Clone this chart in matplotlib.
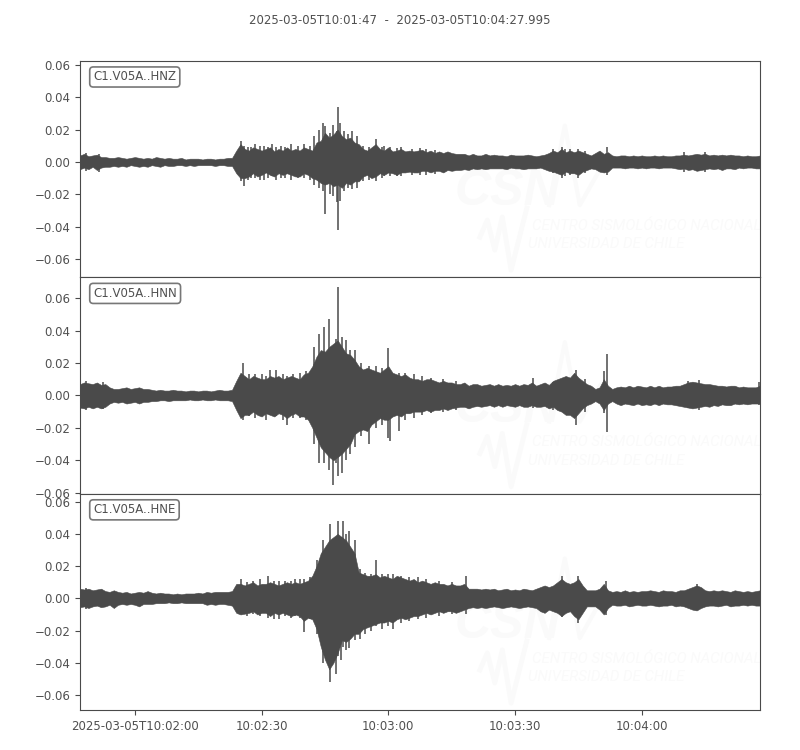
import numpy as np
import matplotlib
matplotlib.use("Agg")
import matplotlib.pyplot as plt

# seconds after 10:01:47, envelope read every 1 s (values in 1e-3), spikes kept apart
times = np.arange(0, 162)
xticks = [13, 43, 73, 103, 133]
xlabels = ["2025-03-05T10:02:00", "10:02:30", "10:03:00", "10:03:30", "10:04:00"]
yticks = [-0.06, -0.04, -0.02, 0.0, 0.02, 0.04, 0.06]
ylabels = ["−0.06", "−0.04", "−0.02", "0.00", "0.02", "0.04", "0.06"]
title = "2025-03-05T10:01:47  -  2025-03-05T10:04:27.995"

names = ["C1.V05A..HNZ", "C1.V05A..HNN", "C1.V05A..HNE"]
ylims = [(-0.0712, 0.0625), (-0.0606, 0.073), (-0.0693, 0.065)]

z_up = [4, 5, 3.5, 4, 4.5, 3, 3, 2.5, 2.5, 3,
        2.5, 2, 2.5, 3, 2.5, 2, 2.5, 2, 3, 2.5,
        2, 2.5, 2, 2, 2.5, 1.5, 2, 2, 2, 1.5,
        2, 2, 1.5, 2, 2, 2.5, 2.5, 7, 11, 8,
        7, 9, 8, 7, 8, 9, 6.5, 8, 7, 9,
        7, 8, 7, 9, 8, 7, 12, 13, 18, 15,
        17, 20, 16, 14, 15, 12, 11, 8, 7, 9,
        11, 8, 7, 9, 6.5, 7, 8, 6.5, 7, 6.5,
        7, 7.5, 6, 7, 5.5, 6.5, 5.5, 6.5, 5.5, 5,
        5, 5, 4, 5, 4, 4, 5, 4, 4.5, 4,
        4, 3.5, 4.5, 4, 4, 4, 4.5, 4, 3.5, 4,
        4.5, 5.5, 7, 6, 8, 6, 7, 6, 7, 6,
        5, 4, 5.5, 7, 5, 6, 4, 3.5, 4, 4,
        3.5, 4, 3.5, 4, 3.5, 3.5, 4, 3.5, 4, 3.5,
        3.5, 4, 4, 4.5, 4, 4.5, 5, 4.5, 5, 4,
        4.5, 4, 4.5, 4, 4.5, 4, 4, 3.5, 4, 3.5,
        3.5, 4]
z_lo = [-4.5, -3.5, -4.5, -3, -5, -3.5, -3, -3, -2.5, -3,
        -2.5, -3, -2, -2.5, -3, -2.5, -3, -2, -2.5, -3,
        -2, -2.5, -2.5, -2, -2, -2.5, -2, -2.5, -2, -2,
        -2, -2, -2.5, -2, -2, -2.5, -2.5, -7, -10, -10,
        -9, -7, -9, -8, -6.5, -8, -9, -7, -8, -7,
        -8, -9, -9, -7, -8, -10, -11, -13, -14, -13,
        -15, -14, -16, -13, -14, -12, -12, -9, -8, -10,
        -9, -7, -8, -6.5, -7, -8, -6.5, -6.5, -6, -6.5,
        -6.5, -5.5, -5.5, -6.5, -5.5, -5.5, -6.5, -5, -5.5, -5,
        -5, -4.5, -5, -4, -4.5, -4, -4.5, -4, -4, -4,
        -4, -4.5, -3.5, -4, -4, -4.5, -4, -4, -4, -3.5,
        -4.5, -5.5, -6, -7, -8, -6, -7, -7, -8, -6,
        -5, -4, -4.5, -6, -6.5, -6, -3.5, -3.5, -3.5, -4,
        -3.5, -3.5, -4, -3.5, -4, -3.5, -3.5, -4, -3.5, -3.5,
        -3.5, -4, -4.5, -4, -5, -4.5, -5.5, -5, -4.5, -4,
        -4.5, -4, -5, -4, -4, -4.5, -3.5, -4, -3.5, -3.5,
        -4, -4]
z_spike_t = [1.5, 4.5, 38, 38.8, 39.7, 40.5, 41.5, 42.5, 43.5, 44.5, 45.5, 46.5, 47.5, 48.5, 50, 51.5, 53, 54.5, 55.5, 56.5, 57.5, 58, 59.2, 60, 60.8, 61, 61.5, 62.5, 63.5, 64.5, 65.5, 67, 68.5, 70, 71.5, 72, 73.5, 75, 76, 78.5, 80.5, 82, 84, 112, 114, 114.8, 116, 118, 119.5, 124.7, 143, 148]
z_spike_up = [5.5, 5, 13, 10, 9.5, 9, 11, 10, 10, 9.5, 11, 9, 10, 9, 11, 10, 11, 10, 16, 20, 24, 22, 18, 23, 19, 34, 24, 19, 17, 19, 16, 10, 9, 14, 9, 10, 9, 8.5, 9, 8, 8.5, 8, 7.5, 8, 9.5, 8, 8, 8, 7, 9, 6, 6]
z_spike_lo = [-5.5, -6, -12, -15, -11, -10, -10, -11, -11, -10, -9, -11, -10, -10, -11, -10, -10, -11, -14, -16, -18, -32, -20, -21, -25, -42, -24, -18, -16, -17, -16, -12, -11, -12, -10, -9, -9, -8.5, -9, -8, -8, -8, -7.5, -7, -10, -9, -8, -10, -7, -8, -6, -6]

n_up = [7, 8, 7.5, 7, 8, 6.5, 7, 5, 4, 4,
        4.5, 5, 4, 4.5, 5, 4, 4, 3.5, 3, 3.5,
        3, 3, 3.5, 3, 3, 2.5, 3, 3, 2.5, 3,
        3, 2.5, 3, 3.5, 3, 3, 3.5, 9, 14, 12,
        10, 12, 11, 10, 10, 12, 11, 12, 10, 11,
        12, 11, 10, 13, 14, 18, 24, 28, 27, 30,
        32, 34, 30, 26, 25, 22, 18, 16, 17, 16,
        15, 14, 16, 18, 14, 13, 12, 13, 11, 10,
        10, 9, 10, 10, 9, 8, 9, 8, 8, 7,
        7, 8, 6, 7, 7, 6, 6.5, 7, 6, 7,
        6, 6.5, 6, 7, 6, 7, 6.5, 8, 6, 7,
        8, 6.5, 9, 10, 11, 12, 11, 14, 11, 9,
        7, 6, 4, 5, 10, 6, 4, 5, 5.5, 5,
        6, 5, 6, 5.5, 5, 6, 5, 6, 5, 5.5,
        5.5, 6, 6, 7, 8, 8.5, 8, 7.5, 7, 7,
        6.5, 6, 6, 5.5, 6, 6, 5, 5.5, 5, 5,
        5, 6]
n_lo = [-7.5, -8, -7, -8, -7, -8, -7, -5, -4, -4.5,
        -4, -5, -4.5, -4, -5, -4, -4, -3.5, -3.5, -3,
        -3, -3.5, -3, -3, -3, -3, -2.5, -3, -3, -2.5,
        -3, -3, -2.5, -3, -3, -3, -3.5, -9, -14, -12,
        -12, -10, -12, -13, -11, -12, -13, -11, -12, -14,
        -12, -11, -13, -13, -15, -20, -26, -32, -35, -38,
        -40, -38, -36, -33, -30, -24, -22, -21, -22, -18,
        -16, -14, -15, -15, -13, -12, -13, -11, -11, -10,
        -10, -10, -9, -10, -9, -9, -8, -9, -8, -7.5,
        -7, -7, -8, -7, -6.5, -7, -6.5, -6, -7, -6,
        -7, -6, -6.5, -7, -6, -7, -7, -6, -7, -7,
        -6.5, -8, -7, -9, -10, -12, -12, -14, -11, -8,
        -6, -5, -3.5, -5, -9, -5, -3.5, -5, -6, -5,
        -5.5, -6, -5, -6, -5.5, -6, -5, -6, -5, -5.5,
        -5.5, -6, -6.5, -7, -7.5, -8, -7.5, -7, -6.5, -7,
        -6, -6.5, -5.5, -6, -6, -5, -5.5, -5, -5.5, -5,
        -5, -5]
n_spike_t = [1.5, 5.5, 38.5, 40, 41.5, 43, 44, 45, 46.5, 48, 49, 50.5, 52, 53.5, 55.5, 56.5, 57.8, 59, 60, 60.5, 61, 62, 63, 64, 65, 66.5, 68.5, 70, 71.5, 73, 73.5, 75.5, 77, 79, 81, 83, 86, 89, 107.3, 112, 117.4, 119.5, 124, 124.7, 144, 146.5, 160.7]
n_spike_up = [9, 8.5, 20, 13, 13, 13, 12, 16, 16, 13, 12, 13, 14, 15, 30, 38, 42, 47, 28, 35, 67, 36, 34, 28, 28, 20, 18, 18, 17, 29, 15, 14, 14, 13, 12, 11, 10, 9, 10.7, 8, 16, 10, 15, 25.8, 9, 9.5, 8]
n_spike_lo = [-9, -8.5, -15, -13, -14, -13, -15, -12, -13, -15, -18, -14, -14, -15, -30, -42, -42, -46, -55, -42, -50, -48, -40, -36, -32, -25, -30, -20, -18, -26, -28, -22, -15, -14, -12, -11, -10, -9, -8, -9, -18.5, -10, -11, -22.7, -8, -9, -6]

e_up = [6, 5.5, 6, 5, 5.5, 6, 4.5, 4, 5, 4,
        3.5, 4, 3, 3.5, 4, 3.5, 4.5, 3.5, 3, 3.5,
        3, 3, 2.5, 3, 2.5, 3, 3, 3, 3.5, 3,
        4, 3.5, 4, 4, 4, 4, 4.5, 9, 9, 8,
        9, 10, 8, 9, 9, 10, 9, 8, 9, 10,
        9, 10, 9, 10, 11, 14, 20, 28, 32, 36,
        38, 40, 38, 36, 32, 28, 16, 15, 14, 14,
        15, 13, 14, 13, 12, 14, 13, 12, 11, 12,
        10, 11, 10, 9, 10, 9, 9, 8, 9, 8,
        8, 9, 6, 6, 6, 5.5, 6, 5.5, 6, 5,
        5.5, 6, 5, 5.5, 5, 6, 5.5, 5, 6, 7,
        8, 7, 8, 10, 12, 10, 9, 10, 12, 8,
        5, 5, 5, 6, 9, 5, 4, 4.5, 4, 5,
        4, 4.5, 4, 4.5, 4.5, 5, 4.5, 4, 5, 4.5,
        4.5, 4, 5, 5, 6, 7, 8, 7, 5, 4.5,
        5, 4.5, 5, 4.5, 4, 5, 4.5, 4, 4.5, 4,
        4.5, 5]
e_lo = [-5.5, -5, -6, -5, -4.5, -5.5, -5, -4, -6, -4,
        -3.5, -4, -3.5, -4, -5, -3.5, -3.5, -3.5, -3, -3,
        -3, -2.5, -3, -3, -2.5, -3, -3, -3, -3, -3,
        -4, -3.5, -4, -3.5, -3.5, -4, -4.5, -9, -10, -9.5,
        -9, -8, -10, -9, -9, -11, -9, -10, -9, -10,
        -11, -10, -11, -14, -12, -13, -19, -30, -38, -44,
        -40, -34, -26, -27, -25, -22, -22, -19, -18, -17,
        -16, -15, -15, -14, -15, -13, -12, -13, -12, -11,
        -11, -10, -9, -10, -9, -8, -9, -8, -8, -9,
        -8, -7, -6, -5.5, -6, -5.5, -6, -5.5, -5, -5.5,
        -6, -5.5, -5, -5.5, -6, -5.5, -5, -5.5, -6, -8,
        -9, -7, -8, -9, -11, -9, -8, -11, -13, -9,
        -5, -5, -5, -7, -10, -6, -4, -4.5, -4.5, -4,
        -5, -4.5, -4, -4.5, -4.5, -4, -4.5, -5, -4.5, -4.5,
        -4, -5, -4.5, -5, -6, -7, -7.5, -6, -5, -4.5,
        -4.5, -5, -4.5, -4, -5, -4.5, -4.5, -4, -4.5, -4,
        -4.5, -4.5]
e_spike_t = [1.5, 38, 39.5, 41, 42.5, 44.5, 46, 47, 48.5, 50, 51, 52, 53, 54.5, 56, 57.6, 59.2, 60.6, 61.2, 61.8, 62.3, 63, 63.8, 65, 66.3, 67.5, 69, 70, 71.4, 73, 74.2, 76, 78, 80, 82, 85, 88, 91.5, 114, 118, 124.5, 146]
e_spike_up = [6.5, 12, 10, 11, 12, 14, 11, 11, 11, 11, 12, 12, 12, 13, 23.5, 36, 46, 35, 48, 38, 48, 40, 42, 36, 18, 16, 15, 23.5, 15, 15, 15, 14, 13, 13, 12, 11, 10, 14, 13.6, 13.6, 11, 9]
e_spike_lo = [-6.5, -10, -11, -10, -11, -12, -13, -13, -11, -12, -11, -12, -21, -13, -22, -40, -52, -47, -36, -38, -30, -32, -31, -26, -25, -22, -20, -17, -19, -17, -19, -15, -14, -13, -12, -11, -10, -10, -11.5, -15, -10.5, -7.5]

ups = [z_up, n_up, e_up]
los = [z_lo, n_lo, e_lo]
spike_ts = [z_spike_t, n_spike_t, e_spike_t]
spike_ups = [z_spike_up, n_spike_up, e_spike_up]
spike_los = [z_spike_lo, n_spike_lo, e_spike_lo]

dark = "#4a4a4a"
soft = "#fafafa"
plt.rcParams["font.size"] = 8.5
plt.rcParams["text.color"] = "#505050"
plt.rcParams["axes.edgecolor"] = dark
plt.rcParams["xtick.color"] = dark
plt.rcParams["ytick.color"] = dark
plt.rcParams["xtick.labelcolor"] = "#505050"
plt.rcParams["ytick.labelcolor"] = "#505050"

fig, axes = plt.subplots(3, 1, sharex=True, figsize=(8, 7.5), dpi=100)
fig.subplots_adjust(left=0.1, right=0.95, top=0.919, bottom=0.0533, hspace=0)

for i, ax in enumerate(axes):
    # faint watermark behind the trace
    ax.text(0.551, 0.333, "CSN", transform=ax.transAxes, family="Liberation Sans", fontsize=36, fontweight="bold", style="italic", color=soft, ha="left", va="baseline", zorder=0)
    ax.plot([0.69, 0.713, 0.735, 0.765], [0.333, 0.70, 0.333, 0.5], transform=ax.transAxes, color=soft, lw=3, zorder=0)
    ax.plot([0.588, 0.599, 0.610, 0.621, 0.634, 0.657], [0.185, 0.264, 0.125, 0.278, 0.032, 0.319], transform=ax.transAxes, color=soft, lw=3.5, zorder=0)
    ax.text(0.665, 0.218, "CENTRO SISMOLÓGICO NACIONAL", transform=ax.transAxes, family="Roboto", fontsize=10.8, style="italic", color=soft, zorder=0)
    ax.text(0.659, 0.134, "UNIVERSIDAD DE CHILE", transform=ax.transAxes, family="Roboto", fontsize=10.8, style="italic", color=soft, zorder=0)

    ax.fill_between(times, np.array(los[i]) / 1000, np.array(ups[i]) / 1000, color=dark, lw=0.4, zorder=2)
    ax.vlines(spike_ts[i], np.array(spike_los[i]) / 1000, np.array(spike_ups[i]) / 1000, color=dark, lw=1.1, zorder=2)

    ax.set_xlim(0, 160.995)
    ax.set_ylim(*ylims[i])
    ax.set_yticks(yticks)
    ax.set_yticklabels(ylabels)
    ax.set_xticks(xticks)
    ax.set_xticklabels(xlabels)
    ax.tick_params(length=3.5, width=0.8)
    ax.text(0.0195, 0.925, names[i], transform=ax.transAxes, ha="left", va="center",
            bbox=dict(boxstyle="round,pad=0.3", fc="white", ec="#777777", lw=1.2))
    if i < 2:
        ax.tick_params(axis="x", bottom=False, labelbottom=False)

fig.text(0.5, 0.972, title, ha="center", va="center")
fig.savefig("out.png", dpi=100)
